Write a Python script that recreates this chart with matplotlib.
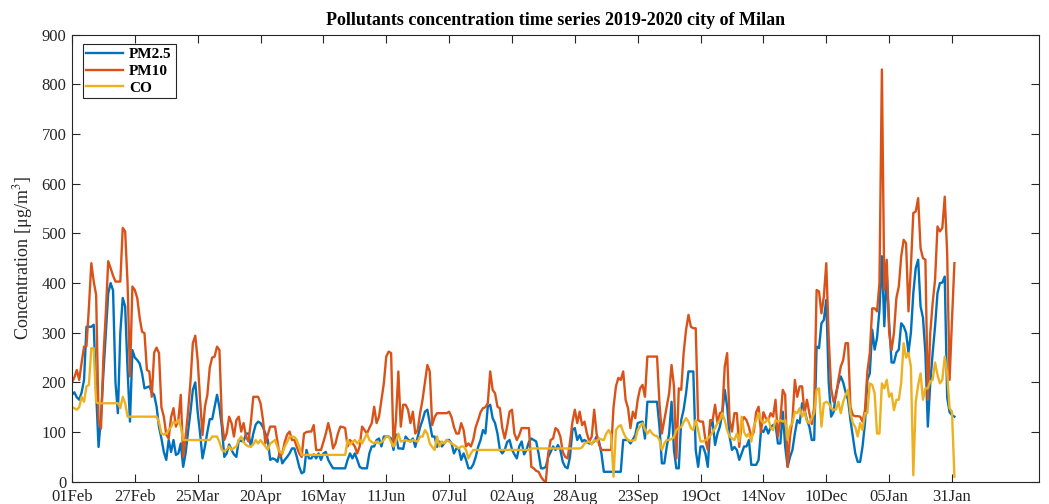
import numpy as np
import pandas as pd
import matplotlib
matplotlib.use('Agg')
import matplotlib.pyplot as plt
import matplotlib.dates as mdates

# daily concentrations, 01 Feb 2019 -> 01 Feb 2020
pm25 = [175, 180, 170, 165, 180, 205, 312, 312, 312, 316,
        180, 70, 130, 218, 300, 380, 400, 385, 200, 138,
        300, 370, 353, 225, 121, 265, 250, 245, 238, 218,
        188, 190, 192, 180, 175, 151, 110, 87, 60, 44,
        84, 60, 84, 54, 57, 77, 30, 57, 100, 140,
        185, 200, 140, 97, 47, 71, 100, 126, 126, 150,
        175, 150, 111, 50, 57, 75, 64, 55, 50, 84,
        82, 81, 97, 97, 71, 97, 115, 121, 118, 110,
        97, 84, 44, 47, 45, 40, 60, 37, 44, 50,
        57, 67, 67, 50, 30, 17, 20, 64, 47, 47,
        55, 47, 57, 44, 57, 60, 44, 35, 27, 27,
        27, 27, 27, 27, 44, 57, 47, 57, 44, 30,
        27, 27, 27, 57, 71, 71, 84, 87, 71, 91,
        91, 91, 87, 64, 95, 67, 67, 66, 91, 85,
        81, 87, 70, 90, 110, 124, 141, 145, 118, 91,
        91, 70, 81, 71, 77, 84, 84, 77, 57, 67,
        67, 44, 57, 44, 27, 27, 35, 50, 70, 84,
        104, 97, 151, 155, 128, 118, 97, 64, 57, 64,
        80, 84, 65, 55, 47, 71, 81, 55, 64, 80,
        87, 84, 81, 57, 27, 27, 30, 50, 60, 71,
        64, 74, 64, 40, 30, 27, 50, 104, 108, 84,
        94, 81, 84, 80, 77, 77, 81, 91, 81, 57,
        20, 20, 20, 20, 20, 20, 20, 20, 84, 84,
        84, 77, 85, 94, 118, 120, 121, 87, 161, 161,
        161, 161, 161, 111, 37, 37, 70, 97, 161, 64,
        27, 27, 124, 145, 178, 222, 222, 222, 64, 30,
        71, 71, 57, 30, 111, 121, 74, 97, 111, 138,
        185, 151, 91, 64, 70, 64, 44, 57, 71, 71,
        84, 34, 34, 34, 44, 104, 100, 111, 97, 110,
        114, 116, 77, 77, 141, 71, 30, 50, 64, 97,
        124, 118, 158, 145, 124, 111, 84, 84, 272, 269,
        319, 326, 366, 200, 131, 140, 178, 198, 212, 200,
        180, 165, 124, 91, 57, 40, 40, 71, 118, 205,
        218, 306, 266, 290, 346, 454, 313, 420, 319, 240,
        240, 260, 266, 319, 313, 300, 260, 300, 380, 430,
        447, 353, 330, 259, 111, 198, 259, 313, 380, 400,
        401, 413, 170, 140, 134, 131]

pm10 = [200, 210, 225, 205, 240, 272, 273, 350, 440, 403,
        376, 124, 107, 250, 340, 444, 430, 415, 403, 403,
        403, 511, 504, 400, 212, 393, 386, 370, 330, 302,
        299, 225, 222, 171, 260, 270, 259, 150, 131, 95,
        87, 130, 148, 111, 124, 175, 50, 91, 140, 200,
        279, 294, 245, 165, 94, 151, 175, 230, 250, 252,
        272, 265, 124, 84, 97, 131, 118, 91, 124, 131,
        101, 118, 91, 81, 120, 171, 171, 171, 158, 125,
        77, 95, 111, 111, 111, 80, 50, 57, 80, 95,
        101, 84, 84, 70, 57, 50, 97, 100, 101, 101,
        114, 64, 64, 64, 80, 97, 118, 97, 67, 77,
        97, 111, 110, 108, 71, 84, 78, 71, 57, 71,
        111, 104, 97, 108, 118, 151, 118, 131, 165, 198,
        252, 262, 259, 71, 124, 222, 111, 155, 155, 145,
        118, 141, 97, 104, 138, 165, 200, 235, 222, 114,
        130, 138, 138, 138, 138, 138, 141, 130, 110, 97,
        97, 118, 104, 71, 77, 71, 85, 110, 124, 140,
        148, 150, 158, 222, 185, 178, 151, 148, 108, 87,
        111, 141, 145, 97, 84, 94, 108, 108, 108, 108,
        30, 27, 22, 20, 10, 3, 0, 57, 84, 87,
        108, 104, 91, 60, 50, 47, 80, 120, 145, 118,
        141, 114, 121, 97, 81, 91, 145, 97, 75, 64,
        64, 64, 64, 64, 150, 192, 209, 205, 222, 165,
        148, 108, 141, 128, 165, 188, 195, 171, 252, 252,
        252, 252, 252, 158, 97, 124, 150, 178, 235, 192,
        47, 188, 185, 259, 306, 336, 312, 309, 309, 124,
        121, 121, 84, 64, 124, 124, 155, 118, 138, 141,
        232, 259, 124, 101, 138, 138, 70, 120, 130, 124,
        110, 90, 100, 140, 151, 100, 140, 128, 124, 138,
        131, 165, 91, 124, 185, 175, 30, 91, 124, 205,
        171, 192, 192, 138, 165, 138, 116, 151, 386, 383,
        339, 373, 440, 290, 188, 161, 171, 205, 232, 245,
        279, 279, 150, 134, 132, 132, 131, 121, 144, 222,
        259, 349, 349, 343, 400, 830, 386, 447, 300, 265,
        300, 370, 393, 454, 487, 480, 343, 433, 541, 544,
        571, 470, 450, 447, 165, 299, 360, 407, 514, 504,
        511, 574, 460, 205, 326, 440]

co = [150, 148, 145, 150, 171, 161, 192, 195, 269, 269,
      160, 158, 158, 158, 158, 158, 158, 158, 158, 158,
      148, 171, 158, 131, 131, 131, 131, 131, 131, 131,
      131, 131, 131, 131, 131, 131, 120, 97, 95, 97,
      104, 110, 121, 118, 124, 111, 84, 84, 84, 84,
      84, 84, 84, 84, 84, 84, 84, 84, 91, 91,
      91, 80, 64, 61, 65, 71, 64, 68, 71, 84,
      91, 80, 74, 71, 71, 75, 84, 77, 84, 77,
      71, 64, 77, 80, 84, 70, 60, 57, 71, 80,
      91, 91, 90, 84, 71, 54, 54, 54, 54, 54,
      54, 54, 54, 54, 54, 54, 54, 54, 54, 54,
      54, 54, 54, 54, 84, 75, 80, 84, 77, 84,
      77, 87, 97, 84, 80, 77, 81, 77, 80, 84,
      91, 91, 80, 71, 81, 97, 81, 82, 84, 82,
      81, 84, 82, 81, 91, 91, 104, 97, 77, 70,
      64, 91, 71, 81, 77, 84, 81, 77, 74, 71,
      67, 71, 71, 64, 47, 57, 64, 64, 64, 64,
      64, 64, 64, 64, 64, 64, 64, 64, 64, 64,
      64, 64, 64, 64, 64, 64, 64, 64, 64, 64,
      67, 67, 67, 67, 67, 67, 67, 67, 67, 67,
      67, 67, 67, 67, 67, 67, 67, 67, 67, 67,
      67, 69, 77, 79, 81, 75, 84, 81, 87, 85,
      84, 97, 104, 94, 10, 104, 111, 114, 100, 90,
      84, 82, 83, 84, 104, 112, 118, 105, 97, 104,
      97, 93, 92, 84, 64, 77, 84, 84, 86, 90,
      104, 108, 110, 120, 128, 121, 108, 104, 124, 104,
      81, 81, 84, 87, 92, 100, 108, 118, 124, 138,
      124, 104, 91, 87, 84, 97, 81, 131, 100, 91,
      97, 81, 111, 124, 138, 124, 118, 121, 128, 108,
      104, 124, 121, 124, 121, 124, 84, 111, 118, 141,
      138, 148, 131, 141, 121, 118, 128, 138, 185, 188,
      111, 158, 161, 158, 148, 145, 145, 161, 138, 161,
      175, 185, 138, 118, 110, 91, 118, 104, 138, 138,
      198, 195, 178, 97, 97, 198, 188, 205, 171, 178,
      144, 165, 165, 200, 279, 250, 259, 232, 13, 160,
      195, 218, 165, 188, 188, 202, 205, 240, 215, 198,
      205, 252, 218, 148, 141, 10]

giorni = pd.date_range('2019-02-01', periods=len(pm10), freq='D')
tick_giorni = pd.date_range('2019-02-01', periods=15, freq='26D')

plt.rcParams['font.family'] = 'Liberation Serif'
plt.rcParams['mathtext.fontset'] = 'stix'
grigio = '#262626'

fig = plt.figure(figsize=(10.49, 5.04), dpi=100)
ax = fig.add_axes([0.0686, 0.0442, 0.9219, 0.8869])

ax.plot(giorni, pm25, color='#0072BD', lw=1.7, label='PM2.5')
ax.plot(giorni, pm10, color='#D95319', lw=1.7, label='PM10')
ax.plot(giorni, co, color='#EDB120', lw=1.7, label='CO')

ax.set_xlim(giorni[0], giorni[0] + pd.Timedelta(days=400))
ax.set_ylim(0, 900)
ax.set_xticks(tick_giorni)
ax.xaxis.set_major_formatter(mdates.DateFormatter('%d%b'))
ax.set_yticks(np.arange(0, 901, 100))
ax.tick_params(direction='in', top=True, right=True, length=6, width=0.8,
               labelsize=12, colors=grigio)
ax.tick_params(axis='x', pad=5)
ax.tick_params(axis='y', pad=4)
for s in ax.spines.values():
    s.set_color(grigio)
    s.set_linewidth(0.8)

ax.set_ylabel('Concentration [μg/m$^3$]', fontsize=13, color=grigio, labelpad=5)
ax.set_title('Pollutants concentration time series 2019-2020 city of Milan',
             fontsize=13, fontweight='bold', pad=7)

leg = ax.legend(loc='upper left', bbox_to_anchor=(0.011, 0.98),
                prop={'weight': 'bold', 'size': 11}, fancybox=False,
                edgecolor=grigio, framealpha=1, handlelength=2.4,
                borderpad=0.25, labelspacing=0.2, handletextpad=0.4,
                borderaxespad=0)
leg.get_frame().set_linewidth(0.8)

fig.savefig('out.png', dpi=100)
